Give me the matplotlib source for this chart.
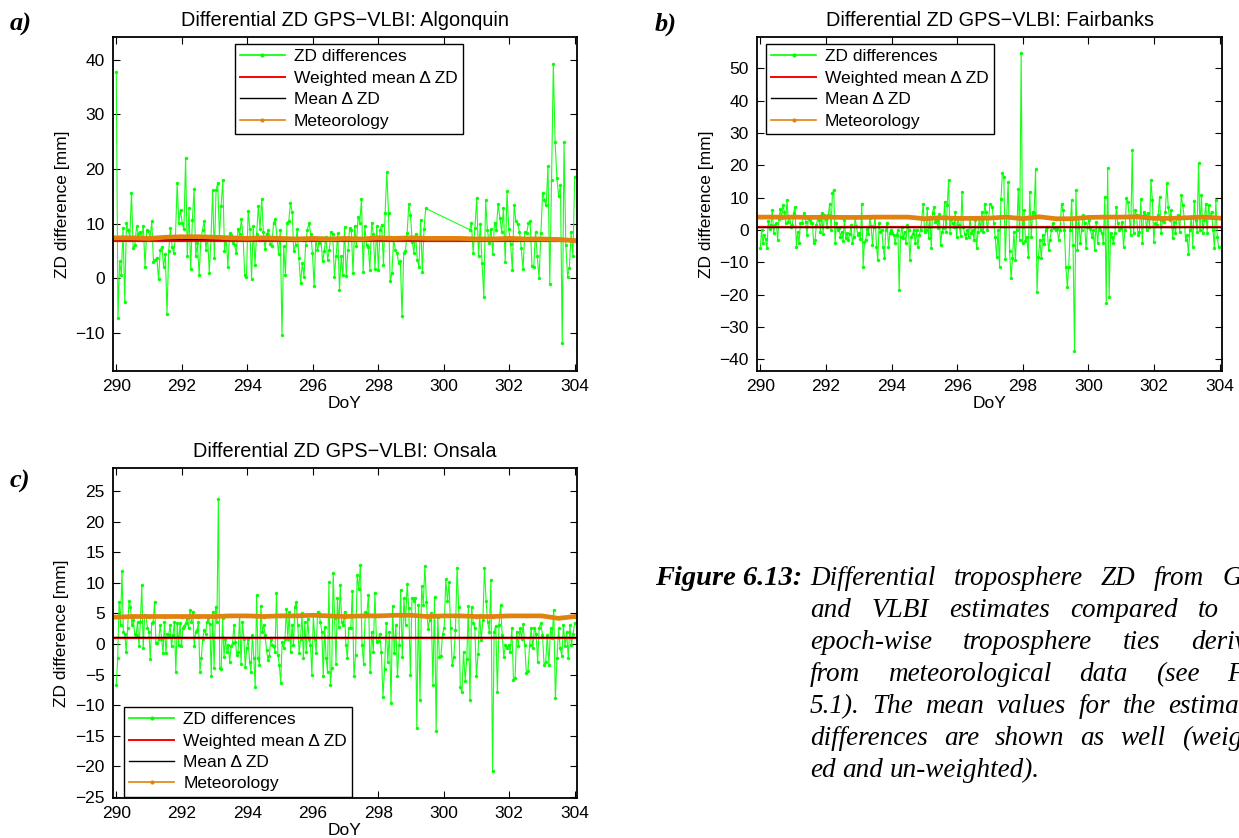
import numpy as np
import matplotlib.pyplot as plt
from matplotlib.lines import Line2D

plt.rcParams['font.family'] = 'Liberation Sans'

# --- ZD differences GPS-VLBI [mm] ---
# Algonquin: 290.00-299.45, then gap, 300.79-304.00
zd_alg_1 = [37.7, -7.3, 3.1, 0.6, 9.2, -4.3, 10.1, 8.9, 7.6, 15.7, 5.5, 6.1, 9.5, 8.1, 8.5, 7.5,
            9.6, 2.0, 8.9, 8.7, 7.5, 10.4, 2.9, 3.4, 3.7, -0.2, 5.1, 5.8, 2.1, 4.5, -6.5, 4.9,
            9.2, 5.8, 4.6, 7.6, 17.4, 10.1, 12.5, 10.1, 9.0, 22.0, 4.0, 12.8, 1.6, 10.6, 16.3, 4.0,
            6.4, 0.6, 7.0, 8.9, 10.4, 5.2, 7.6, 1.0, 7.3, 16.1, 3.7, 16.1, 17.5, 7.8, 13.2, 18.0,
            5.0, 7.6, 2.1, 8.2, 7.9, 6.4, 6.1, 4.6, 9.0, 8.1, 10.8, 7.3, 0.6, 0.2, 12.4, 9.0,
            -0.2, 9.5, 2.4, 8.1, 13.2, 9.0, 14.6, 8.4, 5.3, 8.1, 8.9, 6.3, 5.9, 10.1, 10.8, 7.6,
            4.5, 8.9, -10.4, 5.9, 0.6, 10.2, 10.4, 13.7, 12.2, 4.9, 6.1, 9.0, 3.7, -0.9, 2.7, 0.3,
            6.1, 8.9, 10.1, 8.1, 4.7, -1.5, 7.1, 5.2, 6.4, 7.3, 3.1, 4.9, 7.6, 3.4, 5.2, 8.5,
            8.1, 0.3, 4.1, 8.2, -2.1,
            4.0, 0.6, 9.3, 0.4, 5.2, 9.2, 8.9, 0.9, 9.6, 5.9, 11.3, 10.2, 14.5, 1.2, 9.6, 6.1,
            5.8, 1.5, 10.2, 8.1, 1.6, 9.5, 1.5, 8.9, 9.8, 2.4, 12.0, 19.5, 11.9, -0.6, 0.9, 7.1,
            5.2, 4.7, 2.7, 3.1, -7.0, 4.6, 4.9, 8.2, 13.6, 11.6, 6.7, 4.7, 8.1, 3.4, 2.1, 10.7,
            1.2, 9.1, 12.8]
zd_alg_2 = [8.9, 10.1, 4.7, 9.2, 14.7, 4.0, 10.0, 2.7, -3.4, 14.3, 8.9, 6.4, 9.0, 4.5, 10.2, 8.9,
            13.6, 11.0, 8.5, 12.8, 2.9, 15.9, 9.0, 6.3, 1.5, 13.4, 10.4, 10.0, 8.5, 5.5, 1.6, 8.4,
            8.2, 10.1, 10.4, 2.3, 2.0, 8.5, 4.0, 0.0, 8.2, 15.7, 14.3, 13.4, 20.6, -1.0, 18.0, 39.3,
            25.0, 18.3, 15.0, 17.1, -11.9, 25.0, 6.1, 0.3, 1.8, 8.5, 4.0, 18.6]

# Fairbanks: 290.00-297.00 and 297.07-303.97
zd_fai_1 = [-5.7, 0.0, -4.1, -1.5, -2.9, -5.7, 2.9, 0.2, 1.5, 6.2, -0.8, 1.5, 2.1, -3.1, 3.3, 6.4,
            3.6, 7.7, 5.7, 2.3, 9.3, 2.6, 3.9, 1.0, 1.5, 5.4, 7.2, -5.2, -0.5, -4.1, 2.1, 2.1,
            4.1, 5.4, 2.6, -1.5, 3.8, 3.1, 2.1, 2.3, -4.1, -3.1, 1.5, 3.6, 3.1, -0.5, 5.2, -1.2,
            4.6, 3.3, 1.0, 4.6, 8.2, 0.0, 11.3, 12.4, -4.1, 2.1, 0.0, 0.5, -2.1, -0.5, -3.3, 3.1,
            -2.6, -1.0, -3.1, -1.2, 1.5, -4.1, -2.1, 3.6, 1.2, -1.5, -0.8, -2.9, 8.2, -11.3, -3.6, -3.1,
            0.2, -1.2, 3.6, 1.2, -4.6, 1.0, 4.1, -5.2, -9.3, 2.1, -0.5, 0.0, -5.2, -8.8, 0.0, 2.3,
            -5.2, -0.8, 0.0, -1.0, -1.5, -4.1, -1.5, -0.1, -18.6, -2.1, 1.0, -2.6, -0.5, -4.1, 1.5, 0.0,
            -9.3, -2.1, -1.2, 0.0, -4.1, 0.0, -5.2, -1.5, 0.0, 3.6, 8.2, -0.5, 0.0, 6.7, -2.6, 4.1,
            -5.7, 5.4, 7.2, 2.6, 3.1, 0.5, 4.9, -4.6, -0.5, 0.5, 8.8, -0.5, 7.7, 15.5, -0.8, 3.3,
            2.1, 1.0, 5.7, -2.1, 4.1, 1.5, -1.9, 11.9, 1.0, -1.2, -2.6, 0.0, -2.1, 4.1, -1.0, 0.0,
            -3.1, 3.1, -5.7, -0.5, 3.6, 0.0, 5.7, -0.5, 8.2, 5.7, 0.0, 3.6, 8.2]
zd_fai_2 = [7.2, 2.3, -2.1, -8.2, 0.0, -11.3, 9.5, 17.5, 16.5, -9.1, 4.1, 14.9, -6.4, -14.9, -8.8, -0.5,
            -9.3, 0.0, 12.6, -3.1, 54.8, -4.1, 6.2, -3.3, -2.1, -8.2, 11.9, -2.1, 5.7, 5.4, 18.8, -19.1,
            -8.2, -3.1, -8.8, -1.5, -4.3, 0.0, 1.0, -6.2, -3.1, 0.0, 2.1, 0.5, 0.0, 0.2, -3.1, 0.0,
            8.2, 6.2, 0.0, -11.3, -17.5, -11.3, 0.0, 9.3, -4.6, -37.3, 12.4, -6.2, 4.1, -4.1, 0.0, 4.6,
            2.1, -5.7, 1.0, 3.1, 0.2, -2.1, 0.0, -6.2, 2.6, -4.1, 1.0, 0.0, -1.0, -4.1, 10.3, -22.7,
            19.1, -20.6, -1.0, -2.1, -4.1, -1.0, 7.2, 2.1, 0.0, 0.5, 2.6, -5.2, 0.0, 9.8, 8.8, 4.1,
            -1.5, 24.7, -1.0, 6.2, 4.6, -1.5, -0.5, 9.5, -4.1, 5.7, 4.6, 0.0, 5.2, 1.0, 15.5, 9.3,
            -3.6, 2.1, 1.5, 4.6, 10.3, -1.0, 3.1, 2.6, 5.7, 14.4, 7.2, 3.1, 6.2, -2.6, 2.6, -1.0,
            4.1, 4.6, -0.5, 10.8, 7.7, 4.1, -3.1, -1.5, -7.4, 0.0, 4.1, -5.2, 9.1, 3.1, -0.5, 20.6,
            0.0, 10.8, -1.0, 3.1, 8.2, -1.0, 7.7, 4.1, 5.7, 0.0, -5.7, 9.3, -2.3, -5.4]

# Onsala: 290.00-297.10 and 297.16-304.00
zd_ons_1 = [-6.7, -2.3, 6.9, 3.1, 11.9, 2.0, 1.7, -1.3, 2.6, 7.0, 6.1, 3.1, 3.9, 1.7, 1.5, 3.6,
            -0.4, 3.6, 9.6, -0.7, 4.7, 4.6, 2.6, 2.0, -2.5, 3.4, 3.6, 6.9, 0.1, 0.1, 0.9, 3.1,
            0.8, -1.5, 3.6, -1.5, 1.7, 1.5, 3.1, -0.4, 1.5, 3.6, -4.6, 3.4, -0.2, 3.4, -0.4, 2.6,
            3.0, 3.4, 4.2, 2.6, 5.6, 3.6, 5.3, -0.4, 2.0, 2.3, 3.6, -4.5, -2.3, 0.9, 2.3, 1.7,
            3.6, 4.2, 3.2, -5.2, 5.3, -4.0, 6.1, 3.6, 23.8, -4.0, -4.1, 4.2, -2.1, 0.9, -1.3, -0.1,
            -2.9, -0.4, 0.1, 3.1, 0.4, -1.8, -1.3, 4.8, -3.2, 3.6, 0.9, -3.7, -0.7, 0.9, -2.9, -4.5,
            1.5, -2.3, -7.1, 8.0, -2.3, -3.4, 6.3, 2.0, 3.1, 1.5, -1.0, -2.6, -1.9, 0.9, -0.2, -0.4,
            -1.3, 8.3, -1.8, -3.4, -6.4, 0.4, -0.7, 0.9, 5.7, 0.9, 5.3, -1.3, 3.1, -0.2, 6.1, 6.9,
            3.1, -1.5, 0.9, 5.0, -2.3, 3.6, -1.3, 4.1, 0.9, -0.2, -5.1, 4.7, 0.9, -1.5, 5.3, 5.1,
            3.6, 2.0, -5.3, 2.8, -2.3, -4.5, 10.1, -6.7, -4.0, 11.7, 4.2, -3.2, 7.5, 2.8, 9.6, 3.6,
            3.1, 5.3, -0.2, -2.3, 2.6]
zd_ons_2 = [2.6, 8.6, -5.3, -1.8, 11.3, 9.0, 13.0, -0.2, -3.3, 5.2, 5.0, 8.1, -4.6, 2.0, -1.3, 8.4,
            0.4, 0.5, 1.7, -1.3, -8.6, -4.1, 3.4, -2.9, 2.0, -9.7, 6.2, -1.5, 3.1, -5.3, -0.2, 8.8,
            -2.2, 7.5, 3.1, 9.9, 5.9, -5.0, 7.5, 7.1, 7.6, -13.8, 6.4, -9.2, 9.5, 6.4, 12.8, 6.9,
            2.5, 3.9, 5.0, -6.7, 7.7, -14.3, 4.5, -2.2, -1.9, 1.7, 2.7, 10.6, 7.0, 10.1, 2.6, -3.5,
            -2.1, 2.3, 12.5, 6.1, -7.1, -7.8, -1.3, -6.0, -2.5, 6.2, -9.2, 6.1, 3.5, 2.7, -5.2, -1.6,
            4.7, 0.7, 3.9, 12.5, 7.0, 3.6, 2.0, 10.5, -20.8, 2.0, 3.0, -7.9, 3.1, 6.4, 1.5, -2.1,
            -0.2, -0.6, -0.2, -1.3, 2.6, -5.9, -5.6, 2.0, -0.4, 2.6, 0.9, 3.2, -0.2, -4.8, -4.4, -0.2,
            2.6, -0.7, 2.7, 1.7, -2.9, 2.7, 3.4, 1.5, -3.4, -2.9, 1.5, -3.4, 2.6, 1.0, 5.6, -8.9,
            -2.3, 2.6, -0.7, -1.9, 3.1, -0.4, 2.0, -2.3, 3.1, -0.2, 1.7, 3.4]

# meteorology tie [mm], every half day 290-304
met_doy = np.arange(290, 304.01, 0.5)
met_alg = [7.4, 7.4, 7.3, 7.5, 7.6, 7.6, 7.5, 7.4, 7.3, 7.4, 7.3, 7.2, 7.3, 7.2, 7.3,
           7.2, 7.4, 7.3, 7.4, 7.3, 7.3, 7.3, 7.2, 7.2, 7.3, 7.2, 7.2, 7.1, 6.9]
met_fai = [4.0, 4.0, 4.0, 3.9, 4.0, 3.9, 3.9, 4.0, 4.0, 4.0, 3.5, 3.8, 3.6, 3.6, 3.7,
           4.0, 3.5, 4.1, 3.5, 3.5, 3.9, 4.0, 4.0, 4.1, 3.6, 3.6, 3.8, 4.0, 3.7]
met_ons = [4.4, 4.5, 4.5, 4.5, 4.5, 4.5, 4.5, 4.6, 4.6, 4.5, 4.6, 4.6, 4.7, 4.6, 4.5,
           4.6, 4.6, 4.7, 4.7, 4.5, 4.6, 4.6, 4.5, 4.5, 4.6, 4.6, 4.6, 4.2, 4.5]

# weighted mean / mean of the differences [mm]
wmean = {'Algonquin': 6.8, 'Fairbanks': 0.9, 'Onsala': 1.0}
mean = {'Algonquin': 7.1, 'Fairbanks': 1.0, 'Onsala': 1.2}

doy_alg = np.concatenate([np.linspace(290.0, 299.45, len(zd_alg_1)),
                          np.linspace(300.79, 304.0, len(zd_alg_2))])
doy_fai = np.concatenate([np.linspace(290.0, 297.0, len(zd_fai_1)),
                          np.linspace(297.07, 303.97, len(zd_fai_2))])
doy_ons = np.concatenate([np.linspace(290.0, 297.1, len(zd_ons_1)),
                          np.linspace(297.16, 304.0, len(zd_ons_2))])

W, H = 1239, 838
fig = plt.figure(figsize=(W / 100, H / 100), dpi=100)

def px_axes(l, t, r, b):
    return fig.add_axes([l / W, 1 - b / H, (r - l) / W, (b - t) / H])

ax_a = px_axes(113, 37, 577, 371)
ax_b = px_axes(757, 37, 1222, 371)
ax_c = px_axes(113, 468, 577, 798)

panels = [
    (ax_a, 'Algonquin', doy_alg, zd_alg_1 + zd_alg_2, met_alg, (-17, 44.2), np.arange(-10, 41, 10)),
    (ax_b, 'Fairbanks', doy_fai, zd_fai_1 + zd_fai_2, met_fai, (-43.6, 59.7), np.arange(-40, 51, 10)),
    (ax_c, 'Onsala', doy_ons, zd_ons_1 + zd_ons_2, met_ons, (-25.2, 28.8), np.arange(-25, 26, 5)),
]

green = '#00ff00'
orange = '#e2820e'
fs = 12.5

# legend entries (thin lines with a dot, like the original legend)
leg_handles = [Line2D([], [], color=green, lw=1.2, marker='.', ms=4),
               Line2D([], [], color='red', lw=1.4),
               Line2D([], [], color='black', lw=1.0),
               Line2D([], [], color=orange, lw=1.2, marker='.', ms=4)]
leg_labels = ['ZD differences', 'Weighted mean \u0394 ZD', 'Mean \u0394 ZD', 'Meteorology']

for ax, site, doy, zd, met, ylim, yt in panels:
    ax.plot(doy, zd, '.-', color=green, lw=0.8, ms=3, alpha=0.9)
    ax.axhline(wmean[site], color='red', lw=1.6)
    ax.axhline(mean[site], color='black', lw=1.0)
    ax.plot(met_doy, met, '.-', color=orange, lw=3.4, ms=3)
    ax.set_xlim(289.9, 304.07)
    ax.set_ylim(*ylim)
    ax.set_xticks(np.arange(290, 305, 2))
    ax.set_yticks(yt)
    ax.tick_params(direction='in', top=True, right=True, length=5, width=0.8,
                   labelsize=fs, pad=6)
    for s in ax.spines.values():
        s.set_linewidth(1.3)
    ax.set_title('Differential ZD GPS\u2212VLBI: ' + site, fontsize=14.3, pad=8)
    ax.set_xlabel('DoY', fontsize=fs, labelpad=1)
    ax.set_ylabel('ZD difference [mm]', fontsize=fs, labelpad=4)
    if site == 'Algonquin':
        kw = dict(loc='upper left', bbox_to_anchor=(0.262, 0.979))
    elif site == 'Fairbanks':
        kw = dict(loc='upper left', bbox_to_anchor=(0.019, 0.979))
    else:
        kw = dict(loc='lower left', bbox_to_anchor=(0.024, 0.004))
    leg = ax.legend(leg_handles, leg_labels, fontsize=fs, numpoints=1, fancybox=False,
                    framealpha=1, edgecolor='black', borderpad=0.3, labelspacing=0.36,
                    handlelength=2.6, handletextpad=0.5, borderaxespad=0, **kw)
    leg.get_frame().set_linewidth(1.0)

# panel letters
for lab, x, y in [('a)', 10, 31), ('b)', 655, 31), ('c)', 10, 488)]:
    fig.text(x / W, 1 - y / H, lab, family='Liberation Serif', style='italic',
             weight='bold', fontsize=19, va='baseline')

# caption (justified, runs off the right edge like the page crop)
cap_head = 'Figure 6.13:'
cap_lines = [
    'Differential troposphere ZD from GPS',
    'and VLBI estimates compared to the',
    'epoch-wise troposphere ties derived',
    'from meteorological data (see Fig.',
    '5.1). The mean values for the estimated',
    'differences are shown as well (weight-',
    'ed and un-weighted).',
]
cap_fs = 19.5
fig.text(802 / W, 1 - 585 / H, cap_head, family='Liberation Serif', style='italic',
         weight='bold', fontsize=20.5, ha='right', va='baseline')

renderer = fig.canvas.get_renderer()
x0, x1 = 810, 1272
for i, line in enumerate(cap_lines):
    y = 1 - (585 + 32 * i) / H
    words = line.split()
    ts = [fig.text(0, y, w, family='Liberation Serif', style='italic',
                   fontsize=cap_fs, va='baseline') for w in words]
    ws = [t.get_window_extent(renderer).width for t in ts]
    if i == len(cap_lines) - 1:
        gap = 0.25 * cap_fs * 100 / 72
    else:
        gap = (x1 - x0 - sum(ws)) / (len(words) - 1)
    x = x0
    for t, w in zip(ts, ws):
        t.set_x(x / W)
        x += w + gap

fig.savefig('out.png', dpi=100)
